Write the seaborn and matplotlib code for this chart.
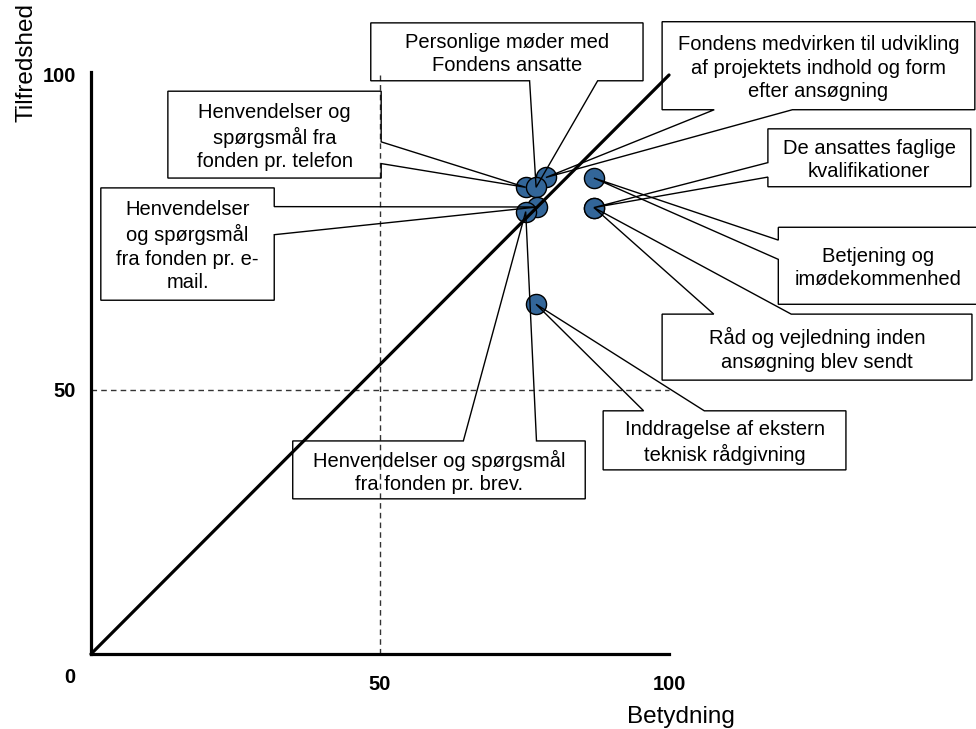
import numpy as np
import pandas as pd
import seaborn as sns
import matplotlib.pyplot as plt
from matplotlib.patches import Polygon

# Spørgsmål, betydning (x) og tilfredshed (y)
labels = [
    'Fondens medvirken til udvikling\naf projektets indhold og form\nefter ansøgning',
    'Henvendelser og\nspørgsmål fra\nfonden pr. telefon',
    'Personlige møder med\nFondens ansatte',
    'Henvendelser\nog spørgsmål\nfra fonden pr. e-\nmail.',
    'Henvendelser og spørgsmål\nfra fonden pr. brev.',
    'Betjening og\nimødekommenhed',
    'De ansattes faglige\nkvalifikationer',
    'Råd og vejledning inden\nansøgning blev sendt',
    'Inddragelse af ekstern\nteknisk rådgivning',
]
betydning = [78.7, 75.2, 77.0, 77.2, 75.2, 87.0, 87.0, 87.0, 77.0]
tilfredshed = [82.3, 80.6, 80.6, 77.2, 76.4, 82.2, 77.1, 77.1, 60.4]

# callout boxes (left, bottom, right, top), data units
boxes = [
    (98.8, 94.0, 152.9, 109.2),
    (13.3, 82.2, 50.2, 97.2),
    (48.4, 99.0, 95.5, 109.0),
    (1.7, 61.1, 31.7, 80.5),
    (34.9, 26.8, 85.5, 36.8),
    (118.9, 60.4, 153.4, 73.7),
    (117.1, 80.7, 152.2, 90.7),
    (98.8, 47.3, 152.4, 58.7),
    (88.6, 31.8, 130.6, 42.0),
]

diag = [0, 100]
x_ref = 50
y_ref = 45.6   # the horizontal "50" line as drawn in the original
x_ticks = [50, 100]
y_ticks = [y_ref, 100]
tick_labels = ['50', '100']

df = pd.DataFrame({'Betydning': betydning, 'Tilfredshed': tilfredshed, 'label': labels})

sns.set_style('white')
plt.rcParams['font.family'] = ['Liberation Sans', 'DejaVu Sans']
plt.rcParams['text.color'] = 'black'
plt.rcParams['xtick.color'] = 'black'
plt.rcParams['ytick.color'] = 'black'

fig = plt.figure(figsize=(9.76, 7.29), dpi=100)
ax = fig.add_axes([0, 0, 1, 1])
ax.set_xlim(-15.74, 153.1)
ax.set_ylim(-12.95, 112.95)


def callout(ax, text, box, tip):
    # Excel style wedge rectangle callout
    x0, y0, x1, y1 = box
    w, h = x1 - x0, y1 - y0
    cx, cy = (x0 + x1) / 2, (y0 + y1) / 2
    dx, dy = tip[0] - cx, cy - tip[1]
    dz = abs(dy) - abs(dx * h / w)
    fx = (7, 10) if dx > 0 else (2, 5)
    fy = (7, 10) if dy > 0 else (2, 5)
    xa, xb = x0 + w * fx[0] / 12, x0 + w * fx[1] / 12
    ya, yb = y1 - h * fy[0] / 12, y1 - h * fy[1] / 12
    pts = [(x0, y1)]
    if dz > 0 and dy < 0:
        pts += [(xa, y1), tip, (xb, y1)]
    pts.append((x1, y1))
    if dz <= 0 and dx > 0:
        pts += [(x1, ya), tip, (x1, yb)]
    pts.append((x1, y0))
    if dz > 0 and dy > 0:
        pts += [(xb, y0), tip, (xa, y0)]
    pts.append((x0, y0))
    if dz <= 0 and dx < 0:
        pts += [(x0, yb), tip, (x0, ya)]
    ax.add_patch(Polygon(pts, closed=True, fill=False, ec='black', lw=1, zorder=5))
    ax.text(cx, cy - 0.4, text, ha='center', va='center', fontsize=14.5,
            linespacing=1.3, color='black', zorder=6)


# reference lines
ax.vlines(x_ref, 0, 100, colors='#333333', lw=1, linestyles=(0, (4, 3)), zorder=1)
ax.hlines(y_ref, 0, 100, colors='#333333', lw=1, linestyles=(0, (4, 3)), zorder=1)

sns.scatterplot(data=df, x='Betydning', y='Tilfredshed', s=210, color='#336699',
                edgecolor='black', linewidth=1, ax=ax, zorder=3)
sns.lineplot(x=diag, y=diag, color='black', lw=2.3, ax=ax, zorder=4)

for lab, box, bx, ty in zip(labels, boxes, betydning, tilfredshed):
    callout(ax, lab, box, (bx, ty))

# axes
for s in ['top', 'right']:
    ax.spines[s].set_visible(False)
for s in ['left', 'bottom']:
    ax.spines[s].set_position(('data', 0))
    ax.spines[s].set_linewidth(2.3)
    ax.spines[s].set_color('black')
ax.spines['bottom'].set_bounds(0, 100)
ax.spines['left'].set_bounds(0, 100.5)

ax.set_xticks(x_ticks)
ax.set_xticklabels(tick_labels, fontweight='bold', fontsize=14.5)
ax.set_yticks(y_ticks)
ax.set_yticklabels(tick_labels, fontweight='bold', fontsize=14.5)
ax.tick_params(axis='x', length=0, pad=15, labelcolor='black')
ax.tick_params(axis='y', length=0, pad=11, labelcolor='black')
ax.annotate('0', (0, 0), xytext=(-15, -17), textcoords='offset points',
            ha='center', va='center', fontweight='bold', fontsize=14.5, color='black')

ax.set_xlabel('')
ax.set_ylabel('')
ax.text(102, -10.9, 'Betydning', ha='center', va='center', fontsize=17.5, color='black')
ax.text(-11.2, 102.2, 'Tilfredshed', ha='center', va='center', rotation=90,
        fontsize=17.5, color='black')

fig.savefig('out.png', dpi=100)
